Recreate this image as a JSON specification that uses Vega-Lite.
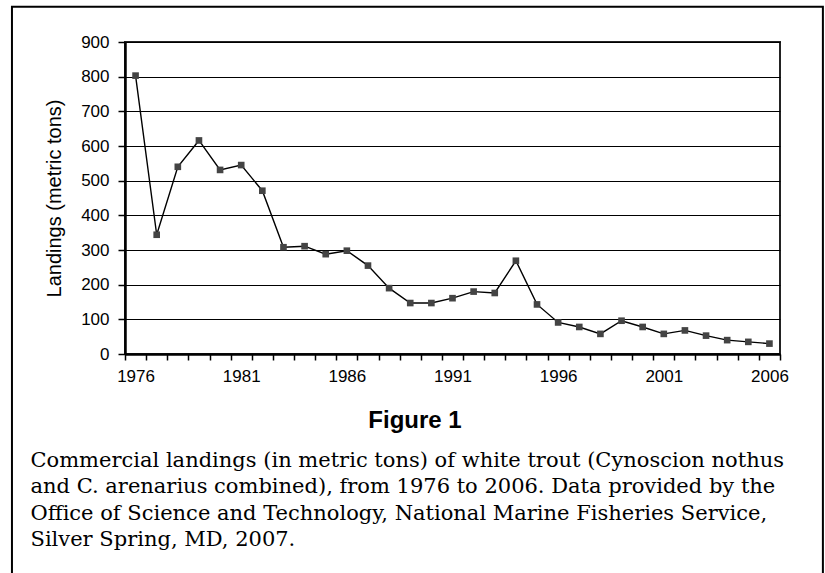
{
  "$schema": "https://vega.github.io/schema/vega-lite/v6.json",
  "width": 655,
  "height": 312,
  "autosize": "none",
  "padding": {"left": 125, "top": 42, "right": 45, "bottom": 219},
  "background": "white",
  "config": {
    "view": {"stroke": "#222", "strokeWidth": 2},
    "font": "Liberation Sans"
  },
  "title": {
    "text": "Figure 1",
    "orient": "top",
    "anchor": "middle",
    "frame": "group",
    "font": "Liberation Sans",
    "fontSize": 24,
    "fontWeight": "bold",
    "color": "black",
    "baseline": "alphabetic",
    "offset": 0,
    "dx": -37.5,
    "dy": 446
  },
  "data": {
    "values": [
      {"year": 1976, "landings": 803},
      {"year": 1977, "landings": 344},
      {"year": 1978, "landings": 540},
      {"year": 1979, "landings": 616},
      {"year": 1980, "landings": 531},
      {"year": 1981, "landings": 545},
      {"year": 1982, "landings": 471},
      {"year": 1983, "landings": 308},
      {"year": 1984, "landings": 311},
      {"year": 1985, "landings": 288},
      {"year": 1986, "landings": 298},
      {"year": 1987, "landings": 255},
      {"year": 1988, "landings": 190},
      {"year": 1989, "landings": 147},
      {"year": 1990, "landings": 147},
      {"year": 1991, "landings": 161},
      {"year": 1992, "landings": 180},
      {"year": 1993, "landings": 176},
      {"year": 1994, "landings": 269},
      {"year": 1995, "landings": 143},
      {"year": 1996, "landings": 91},
      {"year": 1997, "landings": 78},
      {"year": 1998, "landings": 58},
      {"year": 1999, "landings": 96},
      {"year": 2000, "landings": 78},
      {"year": 2001, "landings": 58},
      {"year": 2002, "landings": 68},
      {"year": 2003, "landings": 53},
      {"year": 2004, "landings": 40},
      {"year": 2005, "landings": 35},
      {"year": 2006, "landings": 30}
    ]
  },
  "resolve": {"axis": {"x": "independent", "y": "independent"}},
  "layer": [
    {
      "mark": {
        "type": "line",
        "color": "black",
        "strokeWidth": 1.4,
        "point": {"shape": "square", "size": 44, "filled": true, "color": "#444"}
      },
      "encoding": {
        "x": {
          "field": "year",
          "type": "quantitative",
          "scale": {"domain": [1975.5, 2006.5], "nice": false, "zero": false},
          "axis": {
            "values": [1975.5, 1976.5, 1977.5, 1978.5, 1979.5, 1980.5, 1981.5, 1982.5, 1983.5, 1984.5, 1985.5, 1986.5, 1987.5, 1988.5, 1989.5, 1990.5, 1991.5, 1992.5, 1993.5, 1994.5, 1995.5, 1996.5, 1997.5, 1998.5, 1999.5, 2000.5, 2001.5, 2002.5, 2003.5, 2004.5, 2005.5, 2006.5],
            "labelExpr": "(datum.value - 1976.5) % 5 === 0 ? format(datum.value - 0.5, 'd') : ''",
            "labelOffset": -10.56,
            "labelFlush": false,
            "labelOverlap": false,
            "labelBound": false,
            "labelFont": "Liberation Sans",
            "labelFontSize": 17,
            "labelColor": "black",
            "labelPadding": 8,
            "ticks": true,
            "tickSize": 6,
            "tickColor": "black",
            "tickWidth": 1.5,
            "domain": true,
            "domainColor": "black",
            "domainWidth": 2.5,
            "grid": false,
            "title": [
              "Commercial landings (in metric tons) of white trout (Cynoscion nothus",
              "and C. arenarius combined), from 1976 to 2006. Data provided by the",
              "Office of Science and Technology, National Marine Fisheries Service,",
              "Silver Spring, MD, 2007."
            ],
            "titleFont": "DejaVu Serif",
            "titleFontSize": 21,
            "titleFontWeight": "normal",
            "titleColor": "black",
            "titleAlign": "left",
            "titleBaseline": "alphabetic",
            "titleLineHeight": 26.5,
            "titleX": -95,
            "titleY": 112
          }
        },
        "y": {
          "field": "landings",
          "type": "quantitative",
          "scale": {"domain": [0, 900], "nice": false},
          "axis": {
            "values": [0, 100, 200, 300, 400, 500, 600, 700, 800, 900],
            "labelOverlap": false,
            "labelFont": "Liberation Sans",
            "labelFontSize": 17,
            "labelColor": "black",
            "labelPadding": 9,
            "tickSize": 7,
            "tickColor": "black",
            "tickWidth": 1.5,
            "domainColor": "black",
            "domainWidth": 2.5,
            "grid": true,
            "gridColor": "black",
            "gridWidth": 1,
            "gridOpacity": 1,
            "title": "Landings (metric tons)",
            "titleFont": "Liberation Sans",
            "titleFontSize": 20,
            "titleFontWeight": "normal",
            "titleColor": "black",
            "titleBaseline": "middle",
            "titleAlign": "center",
            "titleX": -71,
            "titleY": 156
          }
        }
      }
    },
    {
      "data": {"values": [{"frame": "outer"}]},
      "mark": {"type": "rect", "filled": false, "stroke": "black", "strokeWidth": 2, "clip": false},
      "encoding": {
        "x": {"datum": 1970.15, "type": "quantitative", "axis": null},
        "x2": {"datum": 2008.53},
        "y": {"datum": 1001.8, "type": "quantitative", "axis": null},
        "y2": {"datum": -700}
      }
    }
  ]
}
